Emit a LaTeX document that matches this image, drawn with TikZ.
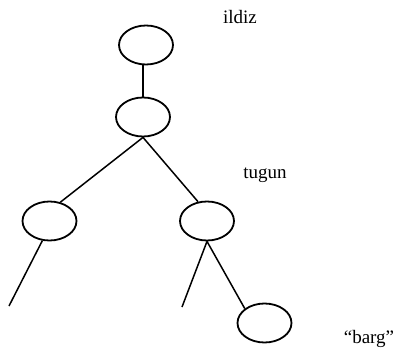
\documentclass[tikz,border=0pt]{standalone}
\usepackage{fontspec}
\setmainfont{Liberation Serif}
\usetikzlibrary{shapes.geometric}
\begin{document}
\begin{tikzpicture}[x=1pt,y=-1pt,
  knot/.style={draw,ellipse,line width=1.8pt,minimum width=54pt,minimum height=39pt,inner sep=0pt},
  edge/.style={line width=1.5pt},
  lbl/.style={font=\fontsize{19}{22}\selectfont,inner sep=0pt}]
\useasboundingbox (0,0) rectangle (398,355);
\node[knot] (r) at (146,45) {};
\node[knot] (m) at (143,117) {};
\node[knot] (l) at (49.5,221) {};
\node[knot] (q) at (207,221) {};
\node[knot] (b) at (264.5,323) {};
\coordinate (le) at (9,306);
\coordinate (qe) at (182,307);
\draw[edge] (m.north) -- (m.north |- r.south);
\draw[edge] (m.south) -- (l.60);
\draw[edge] (m.south) -- (q.115);
\draw[edge] (l.-110) -- (le);
\draw[edge] (q.south) -- (qe);
\draw[edge] (q.south) -- (b.north west);
\node[lbl] (t1) at (240,17) {ildiz};
\node[lbl] (t2) at (265,175) {tugun};
\node[lbl] (t3) at (369,339) {“barg”};
\end{tikzpicture}
\end{document}
